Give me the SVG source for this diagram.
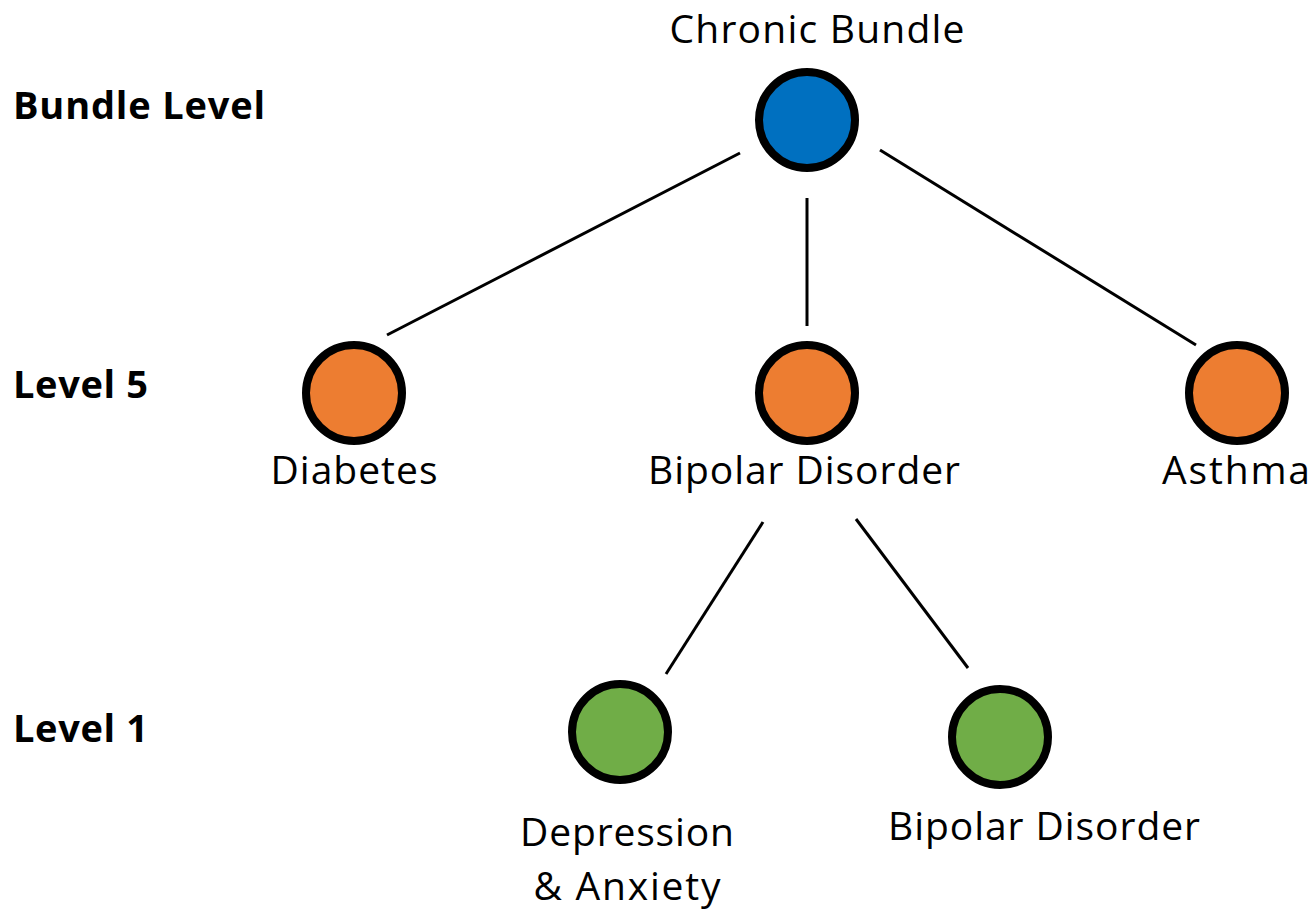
<svg xmlns="http://www.w3.org/2000/svg" width="1312" height="912" viewBox="0 0 1312 912">
<style>
.node{stroke:#000;stroke-width:8}
.blue{fill:#0070C0}.orange{fill:#ED7D31}.green{fill:#70AD47}
.lbl{font-family:"Open Sans","Liberation Sans",sans-serif;font-size:39px;fill:#000;text-anchor:middle}
.lvl{font-family:"Open Sans","Liberation Sans",sans-serif;font-size:38px;font-weight:bold;fill:#000}
.edge{stroke:#000;stroke-width:3;fill:none}
</style>
<rect width="1312" height="912" fill="#fff"/>
<g id="levels">
<text class="lvl" x="13" y="119" textLength="252">Bundle Level</text>
<text class="lvl" x="13" y="398" textLength="135">Level 5</text>
<text class="lvl" x="13" y="742" textLength="135">Level 1</text>
</g>
<g id="connectors">
<line class="edge" x1="740" y1="153" x2="387" y2="335"/>
<line class="edge" x1="807" y1="198" x2="807" y2="326"/>
<line class="edge" x1="880" y1="150" x2="1196" y2="345"/>
<line class="edge" x1="763" y1="522" x2="666" y2="674"/>
<line class="edge" x1="856" y1="519" x2="968" y2="668"/>
</g>
<g id="chronic">
<circle class="node blue" cx="807" cy="120" r="48"/>
<text class="lbl" x="817" y="43" textLength="295">Chronic Bundle</text>
</g>
<g id="diabetes">
<circle class="node orange" cx="354" cy="393" r="48"/>
<text class="lbl" x="354" y="484" textLength="167">Diabetes</text>
</g>
<g id="bipolar5">
<circle class="node orange" cx="807" cy="393" r="48"/>
<text class="lbl" x="804" y="484" textLength="312">Bipolar Disorder</text>
</g>
<g id="asthma">
<circle class="node orange" cx="1237" cy="393" r="48"/>
<text class="lbl" x="1236" y="484" textLength="148">Asthma</text>
</g>
<g id="depression">
<circle class="node green" cx="620" cy="732" r="48"/>
<text class="lbl" x="627" y="846" textLength="214">Depression</text>
<text class="lbl" x="627" y="900" textLength="187">&amp; Anxiety</text>
</g>
<g id="bipolar1">
<circle class="node green" cx="1000" cy="737" r="48"/>
<text class="lbl" x="1044" y="840" textLength="312">Bipolar Disorder</text>
</g>
</svg>
